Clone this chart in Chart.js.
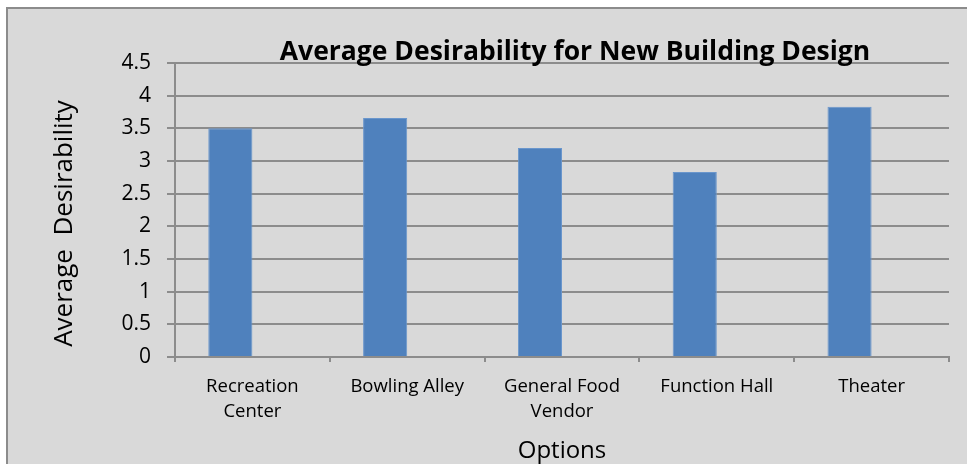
<!DOCTYPE html>
<html>
<head>
<meta charset="utf-8">
<script src="https://cdn.jsdelivr.net/npm/chart.js@4"></script>
<style>
    html, body { margin: 0; padding: 0; background: #fff; overflow: hidden; }
    #frame {
        position: absolute; left: 6px; top: 7px;
        width: 980px; height: 470px;
        background: #d9d9d9; border: 2px solid #8c8c8c;
    }
</style>
</head>
<body>
<div id="frame"><canvas id="desirabilityChart" width="980" height="470"></canvas></div>
<script>
const categories = [['Recreation', 'Center'], 'Bowling Alley', ['General Food', 'Vendor'], 'Function Hall', 'Theater'];
const avgDesirability = [3.5, 3.66, 3.2, 2.83, 3.83];
const emptySeries = [null, null, null, null, null];
const yTicks = { min: 0, max: 4.5, step: 0.5 };

const font = "'Open Sans', 'Noto Sans', sans-serif";
const gridGray = '#8c8c8c';

// title sits just above the plot area, overlapping the top gridline a bit
const titleAboveArea = {
    id: 'titleAboveArea',
    afterDraw(chart) {
        const { ctx, chartArea } = chart;
        ctx.save();
        ctx.font = "bold 26.5px " + font;
        ctx.fillStyle = '#000';
        ctx.textAlign = 'center';
        ctx.textBaseline = 'alphabetic';
        ctx.fillText('Average Desirability for New Building Design', (chartArea.left + chartArea.right) / 2 + 13, chartArea.top - 3);
        ctx.restore();
    }
};

const chart = new Chart(document.getElementById('desirabilityChart').getContext('2d'), {
    type: 'bar',
    data: {
        labels: categories,
        datasets: [{
            label: 'Average Desirability',
            data: avgDesirability,
            backgroundColor: '#4f81bd',
            borderColor: '#6a96cc',
            borderWidth: 1,
            categoryPercentage: 0.57,
            barPercentage: 1
        }, {
            label: '',
            data: emptySeries,
            categoryPercentage: 0.57,
            barPercentage: 1
        }]
    },
    plugins: [titleAboveArea],
    options: {
        responsive: false,
        animation: false,
        devicePixelRatio: 1,
        layout: { padding: { top: 54, right: 39, left: 0, bottom: 2 } },
        plugins: {
            legend: { display: false },
            title: { display: false },
            tooltip: { enabled: false }
        },
        scales: {
            x: {
                grid: { display: true, drawOnChartArea: false, drawTicks: true, tickLength: 5, color: gridGray, lineWidth: 2, offset: true },
                border: { color: gridGray, width: 2 },
                ticks: { color: '#000', font: { family: font, size: 18.5, lineHeight: 1.35 }, padding: 12, maxRotation: 0, autoSkip: false },
                title: { display: true, text: 'Options', color: '#000', font: { family: font, size: 24 }, padding: { top: 0, bottom: 11 } },
                afterFit(scale) { scale.height = 120; }
            },
            y: {
                min: yTicks.min,
                max: yTicks.max,
                ticks: {
                    stepSize: yTicks.step, color: '#000', font: { family: font, size: 21 }, padding: 16,
                    callback: (v) => String(v)
                },
                grid: { color: gridGray, lineWidth: 2, tickLength: 8 },
                border: { color: gridGray, width: 2 },
                title: { display: true, text: 'Average  Desirability    ', color: '#000', font: { family: font, size: 26 }, padding: { top: 41, bottom: 0 } },
                afterFit(scale) { scale.width = 167; }
            }
        }
    }
});
</script>
</body>
</html>
